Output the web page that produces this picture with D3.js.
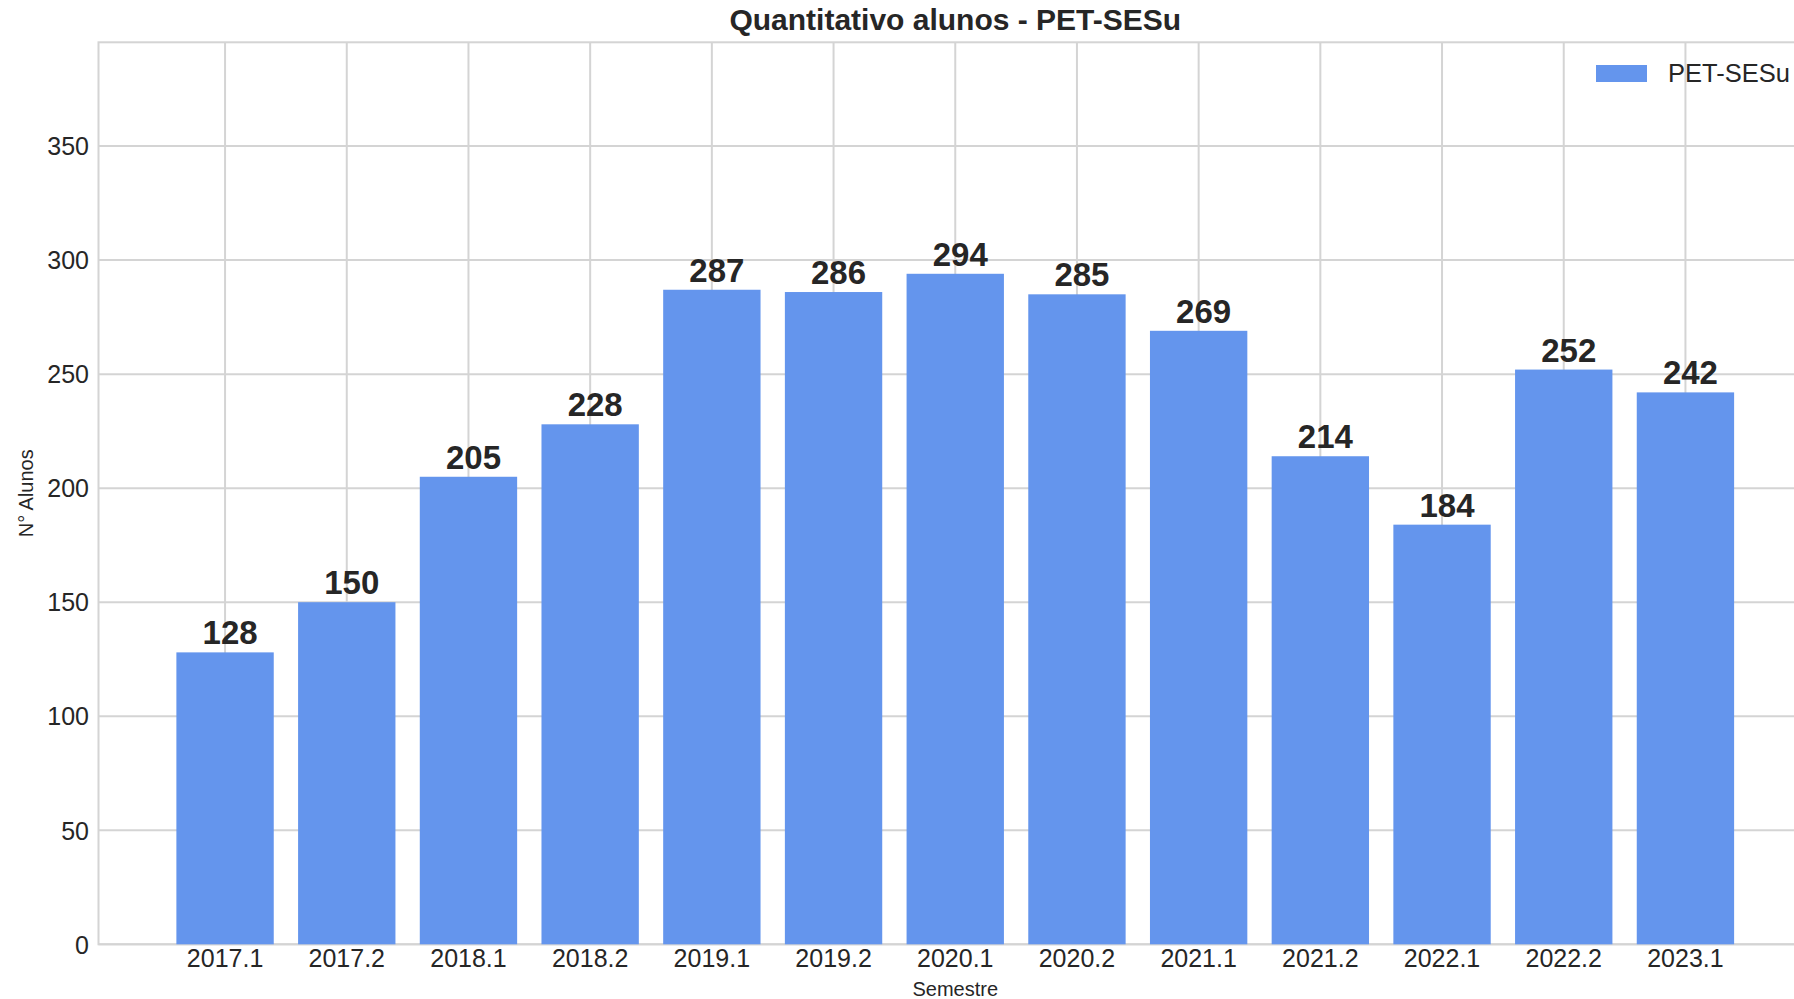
<!DOCTYPE html>
<html>
<head>
<meta charset="utf-8">
<script src="https://cdn.jsdelivr.net/npm/d3@7"></script>
<style>
  body { margin: 0; background: #fff; }
  text { font-family: "Liberation Sans", Arial, sans-serif; fill: #262626; }
</style>
</head>
<body>
<div id="chart"></div>
<script>
// data
var semestres = ["2017.1", "2017.2", "2018.1", "2018.2", "2019.1", "2019.2", "2020.1",
                 "2020.2", "2021.1", "2021.2", "2022.1", "2022.2", "2023.1"];
var alunos = [128, 150, 205, 228, 287, 286, 294, 285, 269, 214, 184, 252, 242];
var yTicks = [0, 50, 100, 150, 200, 250, 300, 350];

var svgWidth = 1794;
var svgHeight = 999;

// plot area (right edge runs past the image, as in the original)
var margin = { top: 42.3, left: 98.5 };
var plotRight = 1812;
var plotBottom = 944.3;

var svg = d3.select("#chart")
  .append("svg")
  .attr("width", svgWidth)
  .attr("height", svgHeight)
  .style("display", "block");

var xScale = d3.scaleBand()
  .domain(semestres)
  .range([margin.left, plotRight])
  .paddingInner(0.2)
  .paddingOuter(0.64);

var yScale = d3.scaleLinear()
  .domain([0, 395.5])
  .range([plotBottom, margin.top]);

var gridColor = "#d4d4d4";

// grid lines
svg.append("g")
  .selectAll("line.hgrid")
  .data(yTicks)
  .enter()
  .append("line")
  .attr("x1", margin.left)
  .attr("x2", plotRight)
  .attr("y1", d => yScale(d))
  .attr("y2", d => yScale(d))
  .attr("stroke", gridColor)
  .attr("stroke-width", 2);

svg.append("g")
  .selectAll("line.vgrid")
  .data(semestres)
  .enter()
  .append("line")
  .attr("x1", d => xScale(d) + xScale.bandwidth() / 2)
  .attr("x2", d => xScale(d) + xScale.bandwidth() / 2)
  .attr("y1", margin.top)
  .attr("y2", plotBottom)
  .attr("stroke", gridColor)
  .attr("stroke-width", 2);

// spines
svg.append("rect")
  .attr("x", margin.left)
  .attr("y", margin.top)
  .attr("width", plotRight - margin.left)
  .attr("height", plotBottom - margin.top)
  .attr("fill", "none")
  .attr("stroke", gridColor)
  .attr("stroke-width", 2);

// bars
svg.append("g")
  .selectAll("rect")
  .data(alunos)
  .enter()
  .append("rect")
  .attr("x", (d, i) => xScale(semestres[i]))
  .attr("y", d => yScale(d))
  .attr("width", xScale.bandwidth())
  .attr("height", d => plotBottom - yScale(d))
  .attr("fill", "#6495ed");

// value labels (sit a little right of the bar centre in the original)
svg.append("g")
  .selectAll("text")
  .data(alunos)
  .enter()
  .append("text")
  .attr("x", (d, i) => xScale(semestres[i]) + xScale.bandwidth() / 2 + 5)
  .attr("y", d => yScale(d) - 8)
  .attr("text-anchor", "middle")
  .style("font-size", "33px")
  .style("font-weight", "bold")
  .text(d => d);

// axes
var bottomAxis = d3.axisBottom(xScale).tickSize(0).tickPadding(0);
var leftAxis = d3.axisLeft(yScale).tickValues(yTicks).tickSize(0).tickPadding(0);

var xAxisG = svg.append("g")
  .attr("transform", `translate(0, ${plotBottom})`)
  .call(bottomAxis);
xAxisG.select(".domain").remove();
xAxisG.selectAll("text")
  .attr("dy", null)
  .attr("y", 23)
  .style("font-size", "25px")
  .attr("fill", "#262626");

var yAxisG = svg.append("g")
  .attr("transform", `translate(${margin.left}, 0)`)
  .call(leftAxis);
yAxisG.select(".domain").remove();
yAxisG.selectAll("text")
  .attr("x", -9.5)
  .attr("dy", "0.35em")
  .style("font-size", "25px")
  .attr("fill", "#262626");

// title and axis labels
svg.append("text")
  .attr("x", (margin.left + plotRight) / 2)
  .attr("y", 30)
  .attr("text-anchor", "middle")
  .style("font-size", "30px")
  .style("font-weight", "bold")
  .text("Quantitativo alunos - PET-SESu");

svg.append("text")
  .attr("x", (margin.left + plotRight) / 2)
  .attr("y", 996)
  .attr("text-anchor", "middle")
  .style("font-size", "20px")
  .text("Semestre");

svg.append("text")
  .attr("transform", `translate(33, ${(margin.top + plotBottom) / 2}) rotate(-90)`)
  .attr("text-anchor", "middle")
  .style("font-size", "20px")
  .text("N° Alunos");

// legend
var legend = svg.append("g");
legend.append("rect")
  .attr("x", 1596)
  .attr("y", 65)
  .attr("width", 51)
  .attr("height", 17)
  .attr("fill", "#6495ed");
legend.append("text")
  .attr("x", 1668)
  .attr("y", 82)
  .style("font-size", "25.5px")
  .text("PET-SESu");
</script>
</body>
</html>
